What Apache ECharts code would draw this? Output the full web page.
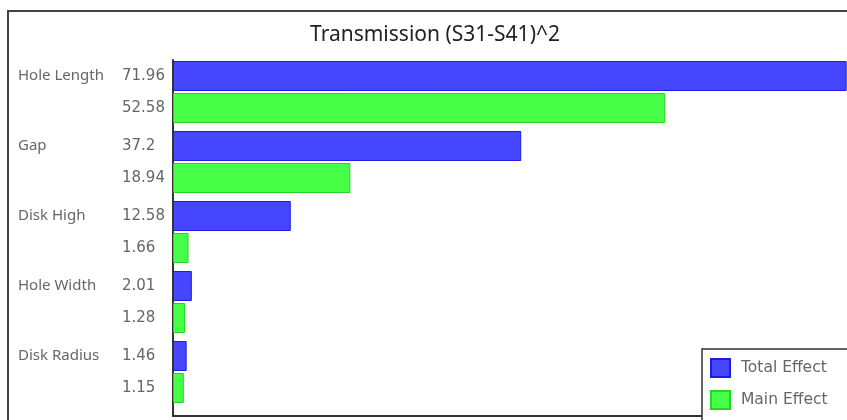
<!DOCTYPE html>
<html>
<head>
<meta charset="utf-8">
<script src="https://cdn.jsdelivr.net/npm/echarts@6/dist/echarts.min.js"></script>
<style>
html, body { margin: 0; padding: 0; background: #fff; }
#main { width: 847px; height: 420px; }
</style>
</head>
<body>
<div id="main"></div>
<script>
var categories = ['Hole Length', 'Gap', 'Disk High', 'Hole Width', 'Disk Radius'];
var totalEffect = [71.96, 37.2, 12.58, 2.01, 1.46];
var mainEffect = [52.58, 18.94, 1.66, 1.28, 1.15];
var seriesNames = ['Total Effect', 'Main Effect'];
var chartTitle = 'Transmission (S31-S41)^2';

var dom = document.getElementById('main');
var myChart = echarts.init(dom);
var font = 'Noto Sans';
var numFont = 'DejaVu Sans';

var valueLabel = {
    show: true,
    position: 'insideLeft',
    distance: 0,
    offset: [-51, 0],
    formatter: '{c}',
    fontFamily: numFont,
    fontSize: 15,
    color: '#666'
};

var option = {
    backgroundColor: '#fff',
    animation: false,
    title: {
        text: chartTitle,
        left: 435,
        top: 25,
        padding: 0,
        textAlign: 'center',
        textStyle: { fontFamily: font, fontSize: 21, fontWeight: 'normal', color: '#222' }
    },
    // outer frame of the plot, cut by the window on the right and bottom
    graphic: [{
        type: 'rect',
        shape: { x: 8, y: 11, width: 900, height: 500 },
        style: { fill: 'none', stroke: '#444', lineWidth: 2 },
        silent: true,
        z: -1
    }],
    legend: {
        orient: 'vertical',
        left: 702,
        top: 349,
        height: 90,
        padding: [9, 60, 12, 8],
        icon: 'rect',
        itemWidth: 19,
        itemHeight: 18,
        itemGap: 12,
        borderColor: '#333',
        borderWidth: 1.5,
        backgroundColor: '#fff',
        data: seriesNames,
        textStyle: { fontFamily: numFont, fontSize: 15.5, color: '#666', padding: [0, 0, 0, 6] },
        z: 10
    },
    grid: [
        { left: 173, top: 57, width: 675, height: 350 },
        { left: 173, top: 60, width: 700, height: 356 }
    ],
    xAxis: [
        { type: 'value', gridIndex: 0, min: 0, max: 72, show: false },
        {
            type: 'value', gridIndex: 1, min: 0, max: 1,
            axisLine: { show: true, lineStyle: { color: '#333', width: 2 } },
            axisTick: { show: false }, axisLabel: { show: false }, splitLine: { show: false }
        }
    ],
    yAxis: [
        {
            type: 'category',
            gridIndex: 0,
            inverse: true,
            data: categories,
            axisLine: { show: false },
            axisTick: { show: false },
            axisLabel: {
                align: 'left',
                margin: 155,
                lineHeight: 32,
                formatter: function (v) { return v + '\n '; },
                fontFamily: font,
                fontSize: 15,
                color: '#666'
            }
        },
        {
            type: 'value', gridIndex: 1, min: 0, max: 1,
            axisLine: { show: true, onZero: false, lineStyle: { color: '#333', width: 2 } },
            axisTick: { show: false }, axisLabel: { show: false }, splitLine: { show: false }
        }
    ],
    series: [{
        name: seriesNames[0],
        type: 'bar',
        xAxisIndex: 0,
        yAxisIndex: 0,
        barWidth: 30,
        barGap: '6.7%',
        data: totalEffect,
        label: valueLabel,
        itemStyle: { color: '#4646ff', borderColor: '#1c1ce6', borderWidth: 1 }
    }, {
        name: seriesNames[1],
        type: 'bar',
        xAxisIndex: 0,
        yAxisIndex: 0,
        barWidth: 30,
        data: mainEffect,
        label: valueLabel,
        itemStyle: { color: '#46ff46', borderColor: '#22d622', borderWidth: 1 }
    }]
};

myChart.setOption(option);
</script>
</body>
</html>
